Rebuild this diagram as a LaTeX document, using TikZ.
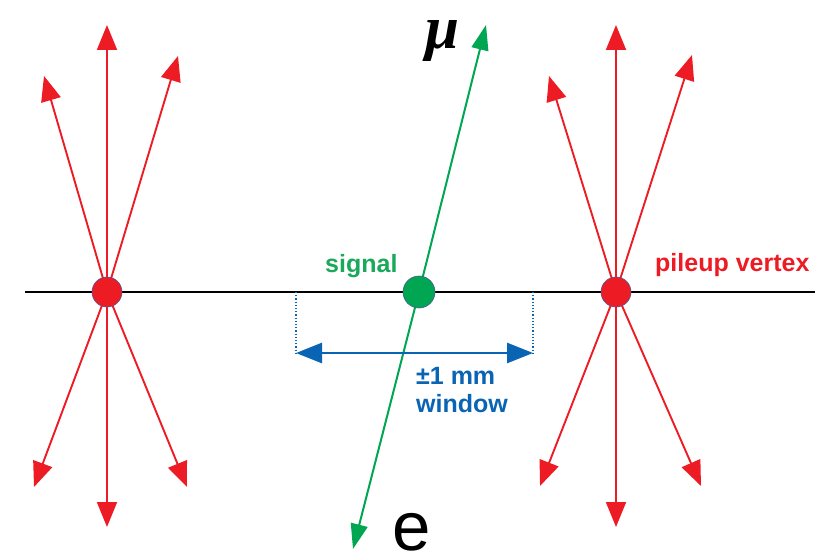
\documentclass[tikz,border=0pt]{standalone}
\usepackage{fontspec}
\setmainfont{Liberation Sans}
\newfontfamily\serifit{Liberation Serif}
\usetikzlibrary{arrows.meta,backgrounds}
\definecolor{vred}{HTML}{ED1C24}
\definecolor{vgreen}{HTML}{00A651}
\definecolor{vgreentxt}{HTML}{1CA85A}
\definecolor{vblue}{HTML}{0A64B4}
\definecolor{dotrim}{HTML}{4A5A96}
\begin{document}
\begin{tikzpicture}[x=1pt,y=-1pt,
  pudot/.style={circle,fill=vred,draw=dotrim,line width=0.6pt,minimum size=30pt,inner sep=0pt},
  sigdot/.style={circle,fill=vgreen,draw=dotrim,line width=0.6pt,minimum size=32pt,inner sep=0pt},
  track/.style={vred,line width=1.9pt,-{Triangle[length=25pt,width=20pt]}},
  lepton/.style={vgreen,line width=2pt,-{Triangle[length=25pt,width=17pt]}},
  beamline/.style={black,line width=2.4pt},
  winedge/.style={vblue,line width=1.2pt,dotted},
  winarrow/.style={vblue,line width=2.7pt,{Triangle[length=26pt,width=20pt]}-{Triangle[length=26pt,width=20pt]}},
  lbl/.style={font=\fontsize{25}{28}\selectfont\bfseries,inner sep=0pt,anchor=base west}
]
\useasboundingbox (0,0) rectangle (832,556);

% vertices
\node[pudot] (L) at (107,292) {};
\node[sigdot] (S) at (419,292) {};
\node[pudot] (R) at (616,292) {};

% beam line ends and window
\coordinate (bl) at (25,292);
\coordinate (br) at (815,292);
\coordinate (wlt) at (296,292);
\coordinate (wrt) at (533,292);
\coordinate (wlb) at (296,353);
\coordinate (wrb) at (533,353);

% track tips, left vertex
\coordinate (L1) at (107,25);
\coordinate (L2) at (44,76);
\coordinate (L3) at (178,56);
\coordinate (L4) at (34,487);
\coordinate (L5) at (187,487);
\coordinate (L6) at (107,527);
% track tips, right vertex
\coordinate (R1) at (616,25);
\coordinate (R2) at (549,76);
\coordinate (R3) at (692,55);
\coordinate (R4) at (540,486);
\coordinate (R5) at (701,486);
\coordinate (R6) at (616,527);
% lepton tips
\coordinate (mutip) at (486,25);
\coordinate (etip) at (353,549);

\begin{scope}[on background layer]
  \draw[beamline] (bl) -- (br);
  \foreach \t in {L1,L2,L3,L4,L5,L6} \draw[track] (L.center) -- (\t);
  \foreach \t in {R1,R2,R3,R4,R5,R6} \draw[track] (R.center) -- (\t);
  \draw[lepton] (S.center) -- (mutip);
  \draw[lepton] (S.center) -- (etip);
\end{scope}

% window
\draw[winedge] (wlt) -- (wlb);
\draw[winedge] (wrt) -- (wrb);
\draw[winarrow] (wlb) -- (wrb);

% labels
\node[lbl,text=vgreentxt] (sig) at (325,272) {signal};
\node[lbl,text=vred] (pu) at (655,271) {pileup vertex};
\node[lbl,text=vblue,align=left,anchor=north west] (win) at (416,367) {±1 mm\\window};
\node[inner sep=0pt,anchor=base west,font=\serifit\bfseries\itshape\fontsize{61}{61}\selectfont] (mu) at (425,49) {μ};
\node[inner sep=0pt,anchor=base west,font=\fontsize{69}{69}\selectfont] (e) at (392,550) {e};
\end{tikzpicture}
\end{document}
